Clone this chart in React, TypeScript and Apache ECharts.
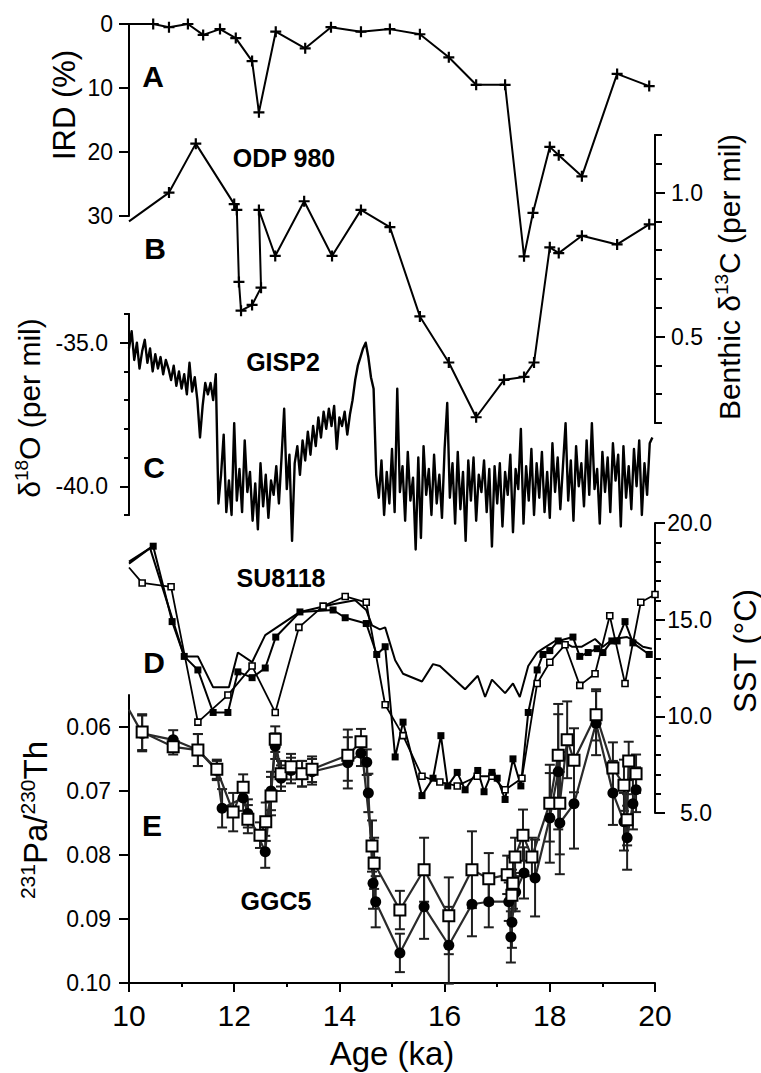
import { useEffect, useRef } from "react";
import * as echarts from "echarts";

const FONT = '"Liberation Sans", Arial, Helvetica, sans-serif';
const PLUS = "path://M4,0H6V4H10V6H6V10H4V6H0V4H4Z";

// ---------- A: ODP 980 IRD (%) ----------
const irdAge = [10.0, 10.46, 10.76, 11.12, 11.41, 11.73, 12.03, 12.34, 12.47, 12.79, 13.35, 13.84, 14.41, 14.96, 15.53, 16.08, 16.6, 17.15, 17.51, 17.68, 18.0, 18.17, 18.61, 19.28, 19.89];
const irdPct = [0, 0, 0.5, 0, 1.7, 0.8, 2.2, 5.8, 13.8, 1.2, 3.8, 0.5, 1.2, 0.8, 1.6, 5.2, 9.5, 9.5, 36.3, 29.5, 19.2, 20.5, 23.8, 7.8, 9.7];
const irdTicks = [0, 10, 20, 30];

// ---------- B: ODP 980 benthic d13C ----------
const d13Age = [10.0, 10.76, 11.27, 12.0, 12.05, 12.09, 12.13, 12.34, 12.51, 12.47, 12.78, 13.33, 13.86, 14.41, 14.96, 15.53, 16.08, 16.6, 17.13, 17.51, 17.7, 18.0, 18.17, 18.61, 19.28, 19.89];
const d13Val = [0.9, 1.0, 1.17, 0.96, 0.94, 0.69, 0.59, 0.61, 0.67, 0.94, 0.78, 0.97, 0.78, 0.94, 0.88, 0.57, 0.41, 0.22, 0.35, 0.36, 0.41, 0.81, 0.79, 0.85, 0.82, 0.89];
const d13Labels = [0.5, 1.0];

// ---------- C: GISP2 d18O (sampled every 0.05 ka from 10.00) ----------
const gispStart = 10.0;
const gispStep = 0.05;
const gispD18O = [
  -35.2, -34.6, -35.6, -35.0, -35.9, -35.3, -34.9, -35.7, -35.2, -36.0, -35.4, -35.9, -35.5, -36.1, -35.6, -35.9, -36.3, -35.8, -36.5, -36.0,
  -36.6, -36.1, -36.8, -35.7, -36.7, -36.2, -37.0, -38.3, -37.2, -36.4, -36.8, -36.4, -37.0, -36.1, -40.6, -39.6, -38.2, -40.9, -39.8, -41.0,
  -37.8, -40.5, -39.4, -40.9, -38.4, -40.2, -39.5, -41.2, -39.9, -41.5, -39.2, -40.7, -39.6, -41.1, -39.8, -40.3, -39.3, -40.6, -39.0, -37.3,
  -40.1, -38.9, -41.9, -39.2, -38.6, -39.6, -38.4, -39.1, -38.1, -38.9, -37.9, -38.6, -37.6, -38.3, -37.4, -38.0, -37.3, -37.9, -37.2, -38.7,
  -37.6, -37.9, -37.4, -38.2, -37.5, -37.0, -36.3, -35.8, -35.5, -35.2, -35.0, -35.5, -36.2, -36.6, -39.6, -40.4, -39.1, -41.0, -39.5, -40.6,
  -38.7, -40.9, -36.6, -40.2, -39.3, -41.2, -38.8, -40.5, -39.7, -42.2, -39.0, -41.8, -38.6, -40.3, -39.4, -41.0, -38.9, -40.6, -39.6, -41.1,
  -38.7, -37.1, -40.4, -39.2, -41.3, -38.8, -40.8, -39.5, -41.9, -39.1, -40.5, -39.0, -41.2, -39.6, -40.2, -39.1, -40.9, -39.4, -42.1, -39.3,
  -40.6, -39.2, -41.4, -39.5, -40.3, -38.9, -41.6, -39.4, -40.1, -38.0, -41.3, -39.3, -40.5, -38.7, -41.0, -39.2, -40.4, -38.8, -40.9, -39.5,
  -41.1, -38.5, -40.2, -39.0, -40.8, -39.3, -37.8, -40.5, -39.1, -41.2, -38.6, -40.0, -39.2, -40.7, -38.4, -40.3, -37.8, -40.1, -39.4, -41.3,
  -38.8, -40.2, -39.0, -40.9, -38.5, -39.8, -38.9, -41.4, -38.6, -40.4, -39.3, -40.8, -38.7, -40.0, -38.4, -41.0, -39.2, -40.3, -38.5, -38.3,
];
const gispLabels = [-40, -35];

// ---------- D: SU8118 SST (degC) ----------
const sstPlainAge = [10.0, 10.4, 11.05, 11.31, 11.6, 11.9, 12.07, 12.34, 12.59, 13.25, 13.88, 14.3, 14.51, 14.62, 14.77, 14.87, 15.06, 15.21, 15.57, 15.78, 15.91, 16.39, 16.63, 16.77, 16.9, 17.15, 17.3, 17.43, 17.59, 17.76, 17.87, 18.16, 18.42, 18.61, 18.86, 19.01, 19.2, 19.47, 19.62, 19.77, 19.94];
const sstPlainVal = [17.9, 18.7, 13.1, 13.1, 11.5, 11.5, 13.3, 12.8, 14.2, 15.4, 15.8, 16.0, 15.5, 14.7, 14.5, 14.6, 12.9, 12.2, 11.8, 12.7, 12.6, 11.4, 12.1, 11.0, 11.9, 11.2, 11.7, 11.0, 12.6, 13.3, 13.5, 14.0, 13.6, 13.6, 14.0, 13.6, 14.0, 14.1, 13.9, 13.6, 13.5];
const sstFilledAge = [10.0, 10.46, 10.82, 11.05, 11.31, 11.6, 11.88, 12.07, 12.34, 12.59, 12.79, 13.25, 13.88, 14.11, 14.51, 14.71, 14.87, 15.06, 15.21, 15.57, 15.78, 15.93, 16.06, 16.24, 16.39, 16.63, 16.75, 16.9, 17.0, 17.15, 17.3, 17.45, 17.59, 17.76, 17.87, 18.0, 18.16, 18.44, 18.57, 18.73, 18.9, 19.01, 19.18, 19.28, 19.43, 19.58, 19.89];
const sstFilledVal = [18.0, 18.8, 14.9, 13.1, 12.4, 10.2, 10.2, 12.3, 12.0, 12.5, 14.1, 15.4, 15.5, 15.1, 14.8, 13.2, 13.6, 7.9, 9.7, 5.9, 6.8, 9.0, 6.4, 7.1, 6.2, 7.2, 6.1, 7.1, 6.8, 5.7, 7.8, 6.4, 10.2, 12.4, 13.2, 13.4, 13.9, 14.1, 13.1, 13.3, 13.5, 13.3, 13.9, 13.9, 14.9, 13.8, 13.2];
const sstOpenAge = [10.0, 10.25, 10.8, 11.31, 11.88, 12.34, 12.78, 13.23, 13.69, 14.11, 14.51, 14.87, 15.21, 15.57, 15.91, 16.24, 16.62, 16.9, 17.15, 17.47, 17.76, 18.0, 18.29, 18.57, 18.86, 19.14, 19.43, 19.73, 20.0];
const sstOpenVal = [17.7, 16.9, 16.7, 9.7, 11.1, 12.6, 10.2, 14.6, 15.7, 16.2, 15.9, 10.6, 9.0, 6.9, 6.6, 6.4, 6.9, 6.9, 6.2, 6.8, 11.7, 12.8, 13.7, 11.6, 12.2, 15.2, 11.7, 15.9, 16.3];

// ---------- E: GGC5 231Pa/230Th ----------
const paFilledAge = [10.0, 10.25, 10.84, 11.31, 11.67, 11.77, 12.17, 12.26, 12.59, 12.7, 12.78, 12.89, 13.08, 13.29, 13.48, 14.16, 14.41, 14.52, 14.55, 14.64, 14.69, 15.15, 15.61, 16.08, 16.52, 16.84, 17.22, 17.26, 17.28, 17.35, 17.51, 17.72, 18.0, 18.16, 18.19, 18.46, 18.88, 19.2, 19.41, 19.47, 19.58, 19.64];
const paFilledVal = [0.0573, 0.061, 0.062, 0.0636, 0.0668, 0.0727, 0.0711, 0.0735, 0.0795, 0.07, 0.063, 0.068, 0.0668, 0.0673, 0.067, 0.0656, 0.0641, 0.0655, 0.0703, 0.0844, 0.0873, 0.0953, 0.0881, 0.0941, 0.0877, 0.0873, 0.0873, 0.0928, 0.0905, 0.0858, 0.0828, 0.0836, 0.0742, 0.067, 0.075, 0.072, 0.0594, 0.0703, 0.0748, 0.0773, 0.072, 0.0698];
const paFilledErr = [0, 0.0028, 0.0015, 0.0025, 0.0015, 0.003, 0.002, 0.0022, 0.0025, 0.003, 0.002, 0.002, 0.002, 0.002, 0.002, 0.004, 0.002, 0.002, 0.003, 0.004, 0.004, 0.003, 0.005, 0.006, 0.005, 0.004, 0.003, 0.004, 0.004, 0.003, 0.004, 0.006, 0.007, 0.009, 0.008, 0.007, 0.005, 0.005, 0.0045, 0.005, 0.004, 0.0035];
const paOpenAge = [10.25, 10.84, 11.31, 11.67, 11.98, 12.17, 12.26, 12.49, 12.6, 12.7, 12.78, 12.89, 13.08, 13.29, 13.48, 14.16, 14.41, 14.62, 14.66, 15.15, 15.61, 16.08, 16.52, 16.84, 17.19, 17.28, 17.3, 17.34, 17.49, 17.66, 18.0, 18.16, 18.19, 18.33, 18.46, 18.88, 19.2, 19.41, 19.47, 19.5, 19.64];
const paOpenVal = [0.0608, 0.0631, 0.0636, 0.0666, 0.0733, 0.0694, 0.0744, 0.0769, 0.0748, 0.0708, 0.0619, 0.0673, 0.0662, 0.0673, 0.0666, 0.0644, 0.0623, 0.0786, 0.0813, 0.0886, 0.0823, 0.0895, 0.0823, 0.0837, 0.0831, 0.0863, 0.0844, 0.0803, 0.0769, 0.0803, 0.0719, 0.0644, 0.0719, 0.062, 0.0652, 0.0581, 0.0664, 0.0691, 0.0745, 0.0653, 0.0673];
const paOpenErr = [0.0028, 0.0012, 0.0025, 0.0015, 0.003, 0.002, 0.0022, 0.002, 0.003, 0.003, 0.002, 0.002, 0.002, 0.002, 0.002, 0.004, 0.002, 0.004, 0.004, 0.003, 0.005, 0.006, 0.006, 0.004, 0.003, 0.004, 0.004, 0.003, 0.004, 0.003, 0.006, 0.008, 0.008, 0.006, 0.005, 0.004, 0.004, 0.004, 0.004, 0.003, 0.003];
const paTicks = [0.06, 0.07, 0.08, 0.09, 0.1];

const ageTicksStep = 2;

function pts(ages: number[], vals: number[], edge: boolean) {
  return ages.map((a, i) =>
    edge && i === 0 ? { value: [a, vals[i]], symbol: "none" } : [a, vals[i]]
  );
}
function errPts(ages: number[], vals: number[], errs: number[]) {
  return ages.map((a, i) => [a, vals[i], errs[i]]).filter((d) => d[2] > 0);
}

const BLACK = "#000";
const axisLine = { show: true, onZero: false, lineStyle: { color: BLACK, width: 2 } };

function App() {
  const ref = useRef<HTMLDivElement>(null);
  useEffect(() => {
    if (!ref.current) return;
    const chart = echarts.init(ref.current, undefined, { renderer: "svg" });

    const grids = [
      { top: 24, height: 192 },
      { top: 135, height: 288 },
      { top: 314, height: 201 },
      { top: 523, height: 290 },
      { top: 695, height: 288 },
    ].map((g) => ({ left: 129, right: 106, ...g, containLabel: false, outerBoundsMode: "none" }));

    const xAxis = grids.map((_, i) => ({
      type: "value",
      gridIndex: i,
      min: 10,
      max: 20,
      interval: ageTicksStep,
      show: i === 4,
      position: "bottom",
      axisLine,
      axisTick: { show: true, length: 9, lineStyle: { color: BLACK, width: 2 } },
      minorTick: { show: true, splitNumber: 2, length: 4, lineStyle: { color: BLACK, width: 2 } },
      splitLine: { show: false },
      minorSplitLine: { show: false },
      axisLabel: { color: BLACK, fontFamily: FONT, fontSize: 30, margin: 17 },
    }));

    const lbl = (extra: any) => ({ color: BLACK, fontFamily: FONT, fontSize: 23, ...extra });
    const tick = (len: number, extra: any = {}) => ({ show: true, length: len, lineStyle: { color: BLACK, width: 2 }, ...extra });

    const yAxis: any[] = [
      // 0: IRD
      {
        type: "value", gridIndex: 0, position: "left", inverse: true, min: 0, max: 30, interval: 10,
        axisLine, axisTick: tick(10, { customValues: irdTicks }), splitLine: { show: false },
        axisLabel: lbl({ margin: 16, customValues: irdTicks }),
      },
      // 1: d13C minor
      {
        type: "value", gridIndex: 1, position: "right", min: 0.2, max: 1.2, interval: 0.1,
        axisLine, axisTick: tick(7), splitLine: { show: false }, axisLabel: { show: false },
      },
      // 2: d13C major
      {
        type: "value", gridIndex: 1, position: "right", min: 0.2, max: 1.2,
        axisLine, axisTick: tick(10, { customValues: d13Labels }), splitLine: { show: false },
        axisLabel: lbl({ margin: 16, customValues: d13Labels, formatter: (v: number) => v.toFixed(1) }),
      },
      // 3: d18O minor
      {
        type: "value", gridIndex: 2, position: "left", min: -41, max: -34, interval: 1,
        axisLine, axisTick: tick(5), splitLine: { show: false }, axisLabel: { show: false },
      },
      // 4: d18O major
      {
        type: "value", gridIndex: 2, position: "left", min: -41, max: -34,
        axisLine, axisTick: tick(9, { customValues: gispLabels }), splitLine: { show: false },
        axisLabel: lbl({ margin: 21, customValues: gispLabels, formatter: (v: number) => v.toFixed(1) }),
      },
      // 5: SST
      {
        type: "value", gridIndex: 3, position: "right", min: 5, max: 20, interval: 5,
        axisLine, axisTick: tick(10), minorTick: { show: true, splitNumber: 5, length: 6, lineStyle: { color: BLACK, width: 2 } },
        splitLine: { show: false }, minorSplitLine: { show: false },
        axisLabel: lbl({ margin: 57, align: "right", formatter: (v: number) => v.toFixed(1) }),
      },
      // 6: Pa/Th
      {
        type: "value", gridIndex: 4, position: "left", inverse: true, min: 0.055, max: 0.1,
        axisLine, axisTick: tick(10, { customValues: paTicks }), splitLine: { show: false },
        axisLabel: lbl({ margin: 18, customValues: paTicks, formatter: (v: number) => v.toFixed(2) }),
      },
    ];

    const errSeries = (data: any[]) => ({
      type: "custom",
      xAxisIndex: 4,
      yAxisIndex: 6,
      silent: true,
      encode: { x: 0, y: 1 },
      data,
      renderItem: (_p: any, api: any) => {
        const x = api.value(0);
        const y = api.value(1);
        const e = api.value(2);
        const t = api.coord([x, y - e]);
        const b = api.coord([x, y + e]);
        const hw = 5;
        const st = { stroke: "#1e1e1e", lineWidth: 2 };
        return {
          type: "group",
          children: [
            { type: "line", shape: { x1: t[0], y1: t[1], x2: b[0], y2: b[1] }, style: st },
            { type: "line", shape: { x1: t[0] - hw, y1: t[1], x2: t[0] + hw, y2: t[1] }, style: st },
            { type: "line", shape: { x1: b[0] - hw, y1: b[1], x2: b[0] + hw, y2: b[1] }, style: st },
          ],
        };
      },
    });

    const gispData = gispD18O.map((v, i) => [+(gispStart + i * gispStep).toFixed(2), v]);

    const series: any[] = [
      {
        type: "line", xAxisIndex: 0, yAxisIndex: 0, clip: false,
        data: pts(irdAge, irdPct, true), symbol: PLUS, symbolSize: 11,
        itemStyle: { color: BLACK }, lineStyle: { color: BLACK, width: 2 },
      },
      {
        type: "line", xAxisIndex: 1, yAxisIndex: 1, clip: false,
        data: pts(d13Age, d13Val, true), symbol: PLUS, symbolSize: 11,
        itemStyle: { color: BLACK }, lineStyle: { color: BLACK, width: 2 },
      },
      {
        type: "line", xAxisIndex: 2, yAxisIndex: 3, clip: false,
        data: gispData, symbol: "none", lineStyle: { color: BLACK, width: 2.4, join: "round" },
      },
      {
        type: "line", xAxisIndex: 3, yAxisIndex: 5, clip: false,
        data: pts(sstPlainAge, sstPlainVal, false), symbol: "none",
        lineStyle: { color: BLACK, width: 2 },
      },
      {
        type: "line", xAxisIndex: 3, yAxisIndex: 5, clip: false,
        data: pts(sstOpenAge, sstOpenVal, true), symbol: "rect", symbolSize: 6,
        itemStyle: { color: "#fff", borderColor: BLACK, borderWidth: 1.6 },
        lineStyle: { color: BLACK, width: 1.8 },
      },
      {
        type: "line", xAxisIndex: 3, yAxisIndex: 5, clip: false,
        data: pts(sstFilledAge, sstFilledVal, true), symbol: "rect", symbolSize: 7,
        itemStyle: { color: BLACK }, lineStyle: { color: BLACK, width: 2 },
      },
      errSeries(errPts(paFilledAge, paFilledVal, paFilledErr)),
      errSeries(errPts(paOpenAge, paOpenVal, paOpenErr)),
      {
        type: "line", xAxisIndex: 4, yAxisIndex: 6, clip: false,
        data: pts(paFilledAge, paFilledVal, true), symbol: "circle", symbolSize: 11,
        itemStyle: { color: BLACK }, lineStyle: { color: "#2a2a2a", width: 2.2 },
      },
      {
        type: "line", xAxisIndex: 4, yAxisIndex: 6, clip: false,
        data: pts(paOpenAge, paOpenVal, false), symbol: "rect", symbolSize: 11,
        itemStyle: { color: "#fff", borderColor: BLACK, borderWidth: 2 },
        lineStyle: { color: "#2a2a2a", width: 2.2 },
      },
    ];

    const txt = (text: string, x: number, y: number, font: string, rotation = 0, rich?: any) => ({
      type: "text",
      x,
      y,
      rotation,
      silent: true,
      style: {
        text,
        font,
        fill: BLACK,
        align: "center",
        verticalAlign: "middle",
        textAlign: "center",
        textVerticalAlign: "middle",
        ...(rich ? { rich } : {}),
      },
    });
    const R90 = Math.PI / 2;
    const titleFont = `30px ${FONT}`;
    const supRich = (m: number, s: number) => ({
      m: { fontSize: m, fontFamily: FONT, fill: BLACK, color: BLACK, lineHeight: m + 4 },
      s: { fontSize: s, fontFamily: FONT, fill: BLACK, color: BLACK, verticalAlign: "top", lineHeight: s },
    });
    const bold = (s: number) => `bold ${s}px ${FONT}`;

    const graphic = [
      txt("IRD (%)", 64, 105, `31px ${FONT}`, R90),
      txt("{m|Benthic δ}{s|13}{m|C (per mil)}", 729, 277, titleFont, R90, supRich(30, 19)),
      txt("{m|δ}{s|18}{m|O (per mil)}", 29, 408, titleFont, R90, supRich(30, 19)),
      txt("SST (°C)", 745, 651, `31px ${FONT}`, R90),
      txt("{s|231}{m|Pa/}{s|230}{m|Th}", 35, 820, titleFont, R90, supRich(33, 21)),
      txt("Age (ka)", 392, 1053, `33px ${FONT}`),
      txt("A", 153, 76, bold(30)),
      txt("B", 155, 248, bold(30)),
      txt("C", 154, 467, bold(30)),
      txt("D", 154, 662, bold(30)),
      txt("E", 152, 825, bold(30)),
      txt("ODP 980", 284, 158, bold(25)),
      txt("GISP2", 283, 362, bold(25)),
      txt("SU8118", 281, 578, bold(25)),
      txt("GGC5", 276, 901, bold(25)),
    ];

    chart.setOption({
      animation: false,
      backgroundColor: "#fff",
      grid: grids,
      xAxis,
      yAxis,
      series,
      graphic,
    });
    return () => chart.dispose();
  }, []);

  return (
    <div
      ref={ref}
      style={{ position: "absolute", left: 0, top: 0, width: 761, height: 1073, background: "#fff" }}
    />
  );
}

export default App;
